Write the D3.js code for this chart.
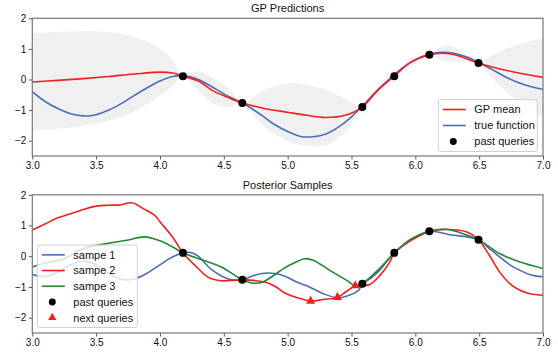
<!DOCTYPE html>
<html>
<head>
<meta charset="utf-8">
<script src="https://cdn.jsdelivr.net/npm/d3@7"></script>
<style>
  body { margin: 0; background: #fff; }
  svg { display: block; font-family: "Liberation Sans", Arial, sans-serif; }
</style>
</head>
<body>
<div id="chart"></div>
<script>
// --- data ---
const xTicks = [3.0, 3.5, 4.0, 4.5, 5.0, 5.5, 6.0, 6.5, 7.0];
const yTicks = [-2, -1, 0, 1, 2];

// past queries (same in both panels)
const queryX = [4.18, 4.645, 5.585, 5.835, 6.11, 6.495];
const queryY = [0.11, -0.77, -0.90, 0.11, 0.81, 0.54];

// next queries (bottom panel)
const nextX = [5.18, 5.39, 5.53];
const nextY = [-1.46, -1.34, -0.96];

// true function
const trueX = [3.0, 3.1, 3.2, 3.3, 3.4, 3.5, 3.6, 3.7, 3.8, 3.9, 4.0, 4.1, 4.2, 4.3, 4.4, 4.5, 4.6, 4.7, 4.8, 4.9,
  5.0, 5.1, 5.2, 5.3, 5.4, 5.5, 5.6, 5.7, 5.8, 5.9, 6.0, 6.1, 6.2, 6.3, 6.4, 6.5, 6.6, 6.7, 6.8, 6.9, 7.0];
const trueY = [-0.40, -0.72, -0.95, -1.12, -1.19, -1.15, -1.00, -0.78, -0.52, -0.27, -0.05, 0.10, 0.12, 0.00, -0.22,
  -0.47, -0.68, -0.90, -1.18, -1.48, -1.70, -1.86, -1.87, -1.78, -1.55, -1.22, -0.80, -0.36, 0.03, 0.38,
  0.65, 0.82, 0.89, 0.86, 0.74, 0.55, 0.33, 0.10, -0.09, -0.23, -0.32];

// GP mean and band half-width
const meanX = [3.0, 3.2, 3.4, 3.6, 3.8, 4.0, 4.1, 4.18, 4.3, 4.42, 4.54, 4.645, 4.8, 5.0, 5.15, 5.3, 5.45, 5.585,
  5.7, 5.835, 5.96, 6.11, 6.2, 6.3, 6.495, 6.6, 6.8, 7.0];
const meanY = [-0.08, -0.03, 0.03, 0.10, 0.18, 0.24, 0.21, 0.11, -0.05, -0.38, -0.60, -0.77, -0.93, -1.07, -1.17,
  -1.24, -1.17, -0.90, -0.38, 0.11, 0.55, 0.81, 0.86, 0.82, 0.54, 0.41, 0.22, 0.07];
const meanSd = [1.60, 1.58, 1.55, 1.45, 1.22, 0.77, 0.42, 0, 0.32, 0.42, 0.30, 0, 0.55, 0.95, 1.00, 0.90, 0.55, 0,
  0.10, 0, 0.15, 0, 0.22, 0.25, 0, 0.38, 0.92, 1.29];

// posterior samples
const s1X = [3.0, 3.1, 3.2, 3.3, 3.4, 3.5, 3.6, 3.7, 3.8, 3.9, 4.0, 4.1, 4.18, 4.24, 4.3, 4.4, 4.53, 4.645, 4.72, 4.8,
  4.9, 4.98, 5.07, 5.17, 5.28, 5.385, 5.46, 5.555, 5.585, 5.65, 5.72, 5.835, 5.96, 6.11, 6.27, 6.495, 6.58, 6.66,
  6.74, 6.82, 6.9, 7.0];
const s1Y = [-0.60, -0.66, -0.52, -0.28, -0.16, -0.28, -0.56, -0.76, -0.74, -0.55, -0.28, -0.02, 0.11, 0.12, 0.00,
  -0.42, -0.73, -0.77, -0.65, -0.56, -0.56, -0.65, -0.84, -1.00, -1.22, -1.35, -1.30, -1.11, -0.90, -0.72, -0.46,
  0.11, 0.50, 0.81, 0.70, 0.54, 0.25, -0.02, -0.28, -0.46, -0.60, -0.67];

const s2X = [3.0, 3.1, 3.2, 3.3, 3.4, 3.5, 3.6, 3.69, 3.78, 3.87, 3.96, 4.0, 4.1, 4.18, 4.3, 4.38, 4.48, 4.645, 4.82,
  4.9, 4.98, 5.04, 5.1, 5.18, 5.28, 5.39, 5.46, 5.53, 5.585, 5.645, 5.72, 5.8, 5.835, 5.96, 6.04, 6.11, 6.25, 6.41,
  6.495, 6.58, 6.66, 6.74, 6.82, 6.9, 7.0];
const s2Y = [0.85, 1.05, 1.25, 1.38, 1.52, 1.63, 1.66, 1.67, 1.74, 1.55, 1.33, 1.12, 0.62, 0.11, -0.40, -0.69, -0.80,
  -0.77, -0.84, -0.98, -1.20, -1.30, -1.38, -1.46, -1.41, -1.34, -1.15, -0.96, -0.95, -0.92, -0.64, -0.19, 0.11,
  0.50, 0.68, 0.81, 0.87, 0.78, 0.54, 0.03, -0.51, -0.89, -1.11, -1.22, -1.27];

const s3X = [3.0, 3.1, 3.24, 3.4, 3.58, 3.74, 3.88, 4.0, 4.1, 4.18, 4.35, 4.48, 4.645, 4.72, 4.8, 4.875, 4.98, 5.05,
  5.135, 5.2, 5.33, 5.46, 5.54, 5.585, 5.72, 5.835, 5.96, 6.11, 6.245, 6.41, 6.495, 6.66, 6.82, 7.0];
const s3Y = [-0.35, -0.22, -0.10, 0.25, 0.41, 0.52, 0.63, 0.50, 0.30, 0.11, -0.15, -0.35, -0.77, -0.87, -0.85, -0.67,
  -0.37, -0.22, -0.08, -0.13, -0.46, -0.78, -0.98, -0.90, -0.40, 0.11, 0.55, 0.81, 0.88, 0.68, 0.54, 0.09, -0.19,
  -0.40];

const RED = "#f02020", BLUE = "#4c6cb8", GREEN = "#228833";

// --- layout ---
const width = 558, height = 356;
const x = d3.scaleLinear().domain([3, 7]).range([32.3, 543]);
const yTop = d3.scaleLinear().domain([-2.5, 2]).range([156, 18.3]);
const yBot = d3.scaleLinear().domain([-2.5, 2]).range([333, 194.8]);

const svg = d3.select("#chart").append("svg")
  .attr("width", width)
  .attr("height", height);

const zip = (xs, ys) => xs.map((v, i) => [v, ys[i]]);

function drawPanel(y, title, id) {
  const g = svg.append("g");
  const [x0, x1] = x.range();
  const [y1, y0] = y.range();

  svg.append("clipPath").attr("id", id)
    .append("rect")
    .attr("x", x0).attr("y", y0)
    .attr("width", x1 - x0).attr("height", y1 - y0);

  g.append("text")
    .attr("x", (x0 + x1) / 2)
    .attr("y", y0 - 6)
    .attr("text-anchor", "middle")
    .style("font-size", "11px")
    .attr("fill", "#111")
    .text(title);

  const plot = g.append("g").attr("clip-path", `url(#${id})`);

  // axes
  const xAxis = g.append("g")
    .attr("transform", `translate(0,${y1})`)
    .call(d3.axisBottom(x).tickValues(xTicks).tickFormat(d3.format(".1f")).tickSize(3.5).tickPadding(2.5));
  const yAxis = g.append("g")
    .attr("transform", `translate(${x0},0)`)
    .call(d3.axisLeft(y).tickValues(yTicks).tickFormat(d => d < 0 ? "\u2212" + Math.abs(d) : d).tickSize(3.5).tickPadding(2.5));
  [xAxis, yAxis].forEach(a => {
    a.select(".domain").remove();
    a.selectAll(".tick line").attr("stroke", "#555");
    a.selectAll(".tick text")
      .attr("fill", "#111")
      .style("font-size", "10px")
      .style("font-family", "'Liberation Sans', Arial, sans-serif");
  });

  return { g, plot, frame: () => g.append("rect")
    .attr("x", x0).attr("y", y0)
    .attr("width", x1 - x0).attr("height", y1 - y0)
    .attr("fill", "none")
    .attr("stroke", "#777")
    .attr("stroke-width", 1.2) };
}

function drawLegend(g, left, topY, w, rowH, entries) {
  const h = rowH * entries.length + 4;
  g.append("rect")
    .attr("x", left).attr("y", topY)
    .attr("width", w).attr("height", h)
    .attr("rx", 2.5)
    .attr("fill", "#fff").attr("fill-opacity", 0.8)
    .attr("stroke", "#d0d0d0");
  entries.forEach((e, i) => {
    const cy = topY + 2 + rowH * (i + 0.5);
    if (e.type === "line") {
      g.append("line")
        .attr("x1", left + 4.5).attr("x2", left + 27.5)
        .attr("y1", cy).attr("y2", cy)
        .attr("stroke", e.color).attr("stroke-width", 1.6);
    } else {
      g.append("path")
        .attr("transform", `translate(${left + 15},${cy})`)
        .attr("d", d3.symbol(e.type === "dot" ? d3.symbolCircle : d3.symbolTriangle, e.type === "dot" ? 38 : 30)())
        .attr("fill", e.color);
    }
    g.append("text")
      .attr("x", left + 36)
      .attr("y", cy)
      .attr("dy", "0.35em")
      .style("font-size", "11px")
      .attr("fill", "#111")
      .text(e.label);
  });
}

const curve = d3.curveCatmullRom.alpha(0.5);

// ---------- top panel ----------
const topPanel = drawPanel(yTop, "GP Predictions", "clipTop");
const meanData = meanX.map((v, i) => ({ x: v, m: meanY[i], s: meanSd[i] }));

topPanel.plot.append("path")
  .datum(meanData)
  .attr("fill", "#f0f0f0")
  .attr("d", d3.area().curve(curve)
    .x(d => x(d.x))
    .y0(d => yTop(d.m - d.s))
    .y1(d => yTop(d.m + d.s)));

const lineTop = d3.line().curve(curve).x(d => x(d[0])).y(d => yTop(d[1]));

topPanel.plot.append("path")
  .datum(zip(trueX, trueY))
  .attr("fill", "none").attr("stroke", BLUE).attr("stroke-width", 1.6)
  .attr("d", lineTop);

topPanel.plot.append("path")
  .datum(zip(meanX, meanY))
  .attr("fill", "none").attr("stroke", RED).attr("stroke-width", 1.6)
  .attr("d", lineTop);

topPanel.plot.selectAll("circle")
  .data(zip(queryX, queryY))
  .join("circle")
  .attr("cx", d => x(d[0])).attr("cy", d => yTop(d[1]))
  .attr("r", 4).attr("fill", "#000");

topPanel.frame();
drawLegend(topPanel.g, 438.3, 99.5, 99, 16, [
  { type: "line", color: RED, label: "GP mean" },
  { type: "line", color: BLUE, label: "true function" },
  { type: "dot", color: "#000", label: "past queries" }
]);

// ---------- bottom panel ----------
const botPanel = drawPanel(yBot, "Posterior Samples", "clipBot");
const lineBot = d3.line().curve(curve).x(d => x(d[0])).y(d => yBot(d[1]));

[[s1X, s1Y, BLUE], [s2X, s2Y, RED], [s3X, s3Y, GREEN]].forEach(([xs, ys, c]) => {
  botPanel.plot.append("path")
    .datum(zip(xs, ys))
    .attr("fill", "none").attr("stroke", c).attr("stroke-width", 1.6)
    .attr("d", lineBot);
});

botPanel.plot.selectAll("circle")
  .data(zip(queryX, queryY))
  .join("circle")
  .attr("cx", d => x(d[0])).attr("cy", d => yBot(d[1]))
  .attr("r", 4).attr("fill", "#000");

botPanel.plot.selectAll(".next")
  .data(zip(nextX, nextY))
  .join("path")
  .attr("class", "next")
  .attr("transform", d => `translate(${x(d[0])},${yBot(d[1])})`)
  .attr("d", d3.symbol(d3.symbolTriangle, 36)())
  .attr("fill", RED);

botPanel.frame();
drawLegend(botPanel.g, 37.3, 245, 100, 15.7, [
  { type: "line", color: BLUE, label: "sampe 1" },
  { type: "line", color: RED, label: "sampe 2" },
  { type: "line", color: GREEN, label: "sampe 3" },
  { type: "dot", color: "#000", label: "past queries" },
  { type: "tri", color: RED, label: "next queries" }
]);
</script>
</body>
</html>
